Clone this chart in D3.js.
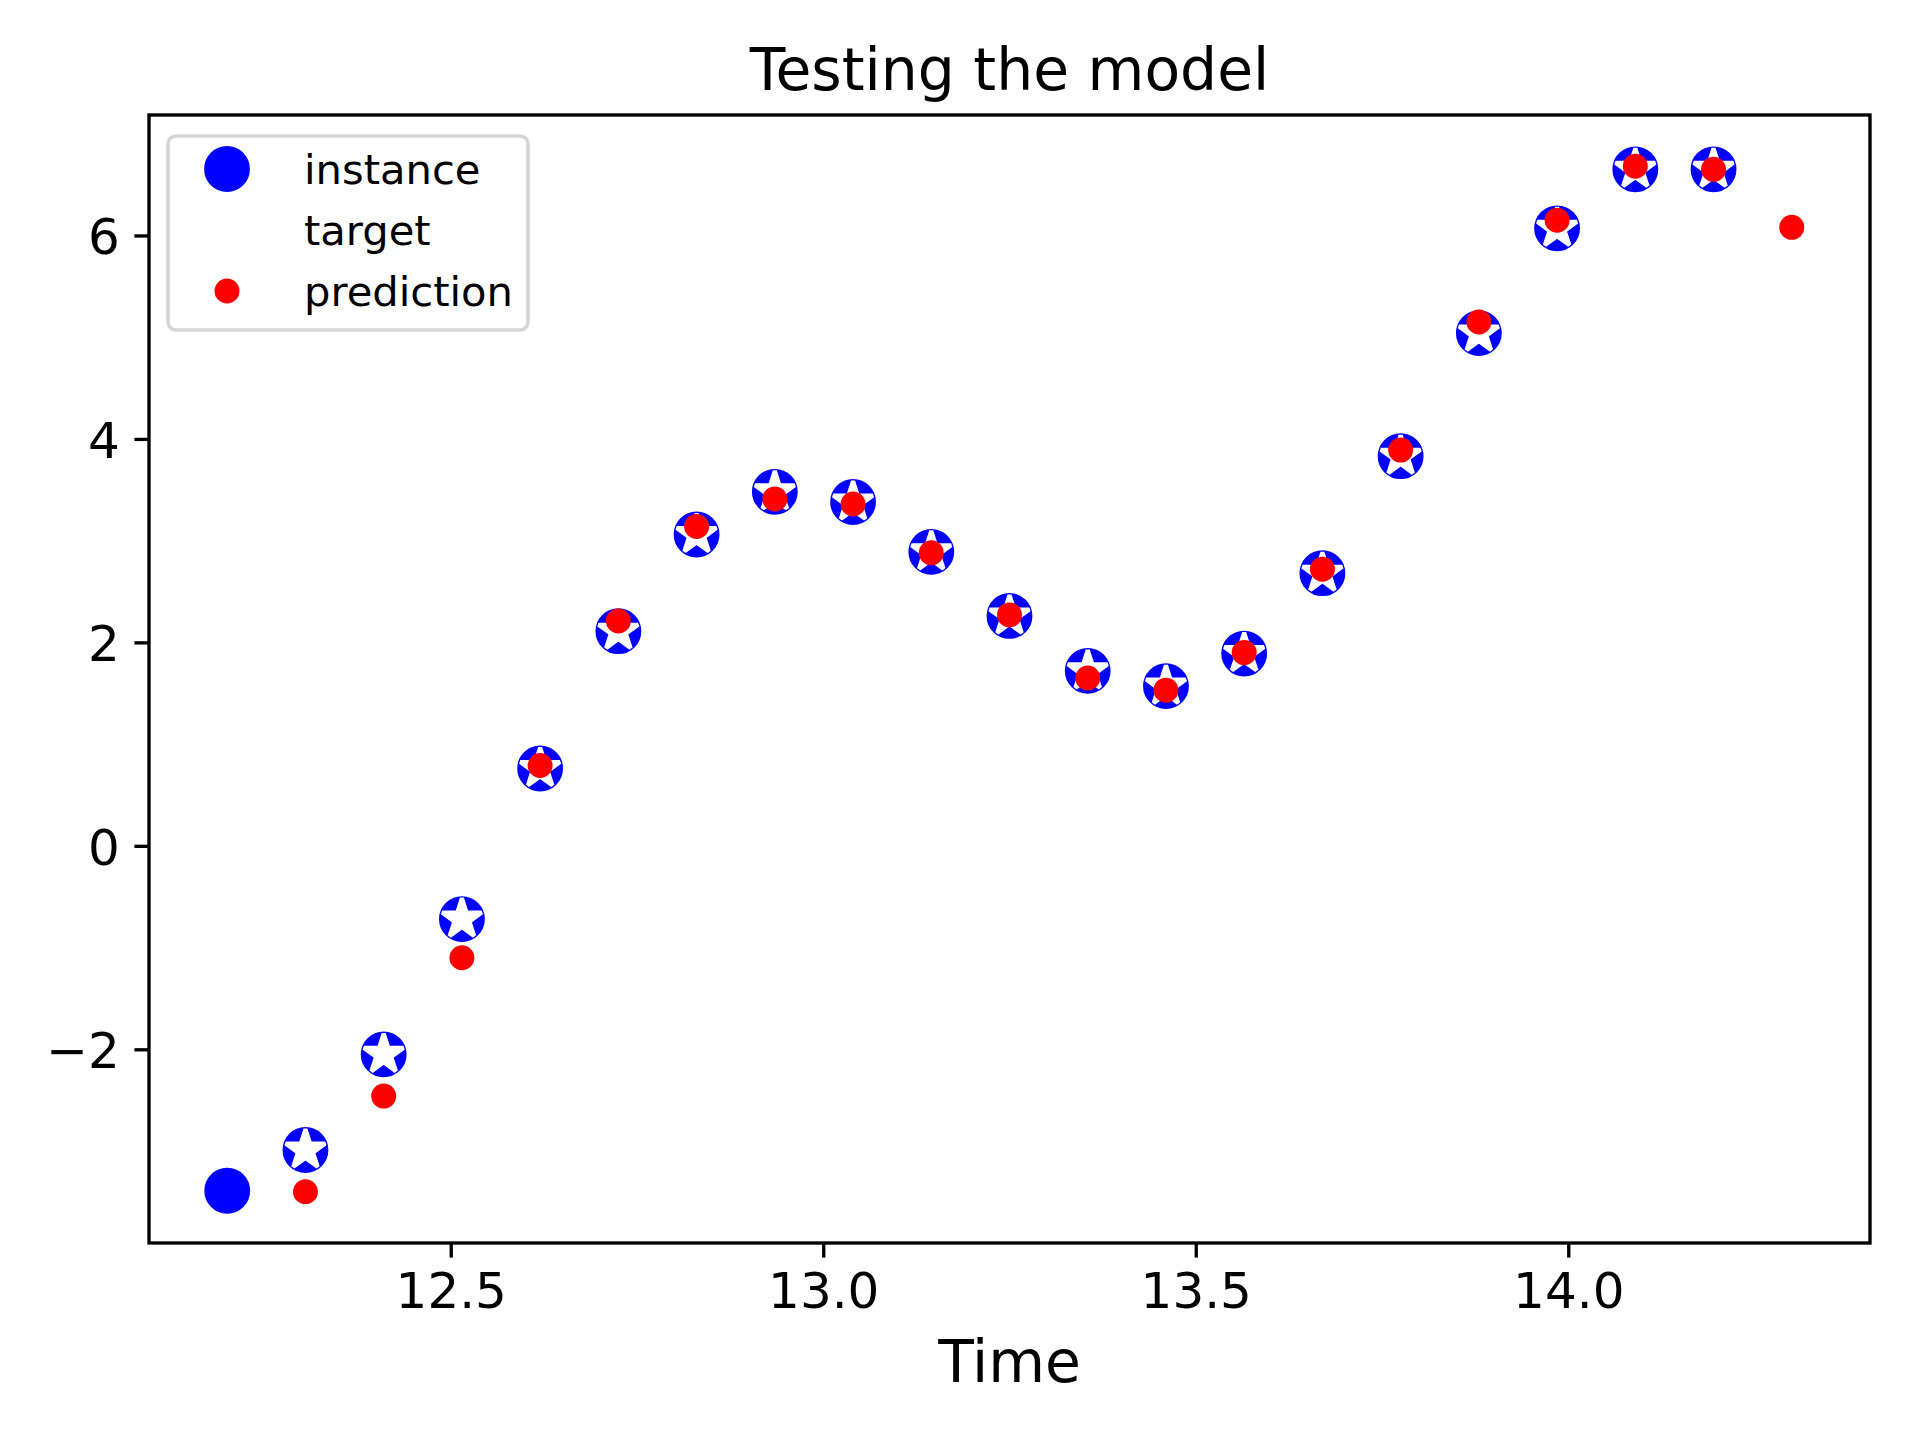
<!DOCTYPE html>
<html>
<head>
<meta charset="utf-8">
<script src="https://d3js.org/d3.v7.min.js"></script>
<style>
  body { margin: 0; background: #fff; }
  svg { display: block; }
  text { font-family: 'DejaVu Sans', sans-serif; fill: #000; }
</style>
</head>
<body>
<svg width="1920" height="1440"></svg>
<script>
// instance: the input steps, target: the same series shifted by one step
const instanceTime = [12.2, 12.305, 12.41, 12.515, 12.62, 12.725, 12.83, 12.935, 13.04, 13.145,
                      13.25, 13.355, 13.46, 13.565, 13.67, 13.775, 13.88, 13.985, 14.09, 14.195];
const instanceValues = [-3.39, -2.99, -2.05, -0.72, 0.76, 2.11, 3.06, 3.48, 3.38, 2.89,
                        2.26, 1.72, 1.57, 1.89, 2.68, 3.83, 5.04, 6.07, 6.65, 6.65];
const targetTime = [12.305, 12.41, 12.515, 12.62, 12.725, 12.83, 12.935, 13.04, 13.145, 13.25,
                    13.355, 13.46, 13.565, 13.67, 13.775, 13.88, 13.985, 14.09, 14.195, 14.3];
const targetValues = [-2.99, -2.05, -0.72, 0.76, 2.11, 3.06, 3.48, 3.38, 2.89, 2.26,
                      1.72, 1.57, 1.89, 2.68, 3.83, 5.04, 6.07, 6.65, 6.65, 6.07];
const predictionValues = [-3.40, -2.46, -1.10, 0.79, 2.21, 3.14, 3.41, 3.36, 2.88, 2.27,
                          1.65, 1.53, 1.90, 2.72, 3.89, 5.15, 6.15, 6.68, 6.65, 6.08];

const xTicks = [12.5, 13.0, 13.5, 14.0];
const yTicks = [-2, 0, 2, 4, 6];
const legendLabels = ['instance', 'target', 'prediction'];

const pt = 300 / 72;   // figure was 300 dpi
const margin = {left: 149, right: 50, top: 115, bottom: 197};
const width = 1920 - margin.left - margin.right;
const height = 1440 - margin.top - margin.bottom;

const svg = d3.select('svg');

// 5% padding on both sides like matplotlib autoscale
function padded(values) {
    const [lo, hi] = d3.extent(values);
    const pad = (hi - lo) * 0.05;
    return [lo - pad, hi + pad];
}

const xScale = d3.scaleLinear()
    .domain(padded(instanceTime.concat(targetTime)))
    .range([0, width]);

const yScale = d3.scaleLinear()
    .domain(padded(instanceValues.concat(targetValues, predictionValues)))
    .range([height, 0]);

const chart = svg.append('g')
    .attr('transform', `translate(${margin.left}, ${margin.top})`);

function starPath(R) {
    const r = R * 0.381966;
    const pts = [];
    for (let i = 0; i < 10; i++) {
        const a = -Math.PI / 2 + i * Math.PI / 5;
        const rad = i % 2 === 0 ? R : r;
        pts.push([rad * Math.cos(a), rad * Math.sin(a)]);
    }
    return 'M' + pts.map(p => p.join(',')).join('L') + 'Z';
}

const bigR = 5 * pt;      // markersize 10
const smallR = 2.5 * pt;  // '.' marker is half size
const edge = 1 * pt;

// instance
chart.append('g')
    .selectAll('circle')
    .data(instanceTime.map((t, i) => [t, instanceValues[i]]))
    .join('circle')
    .attr('cx', d => xScale(d[0]))
    .attr('cy', d => yScale(d[1]))
    .attr('r', bigR)
    .attr('fill', 'blue')
    .attr('stroke', 'blue')
    .attr('stroke-width', edge);

// target
chart.append('g')
    .selectAll('path')
    .data(targetTime.map((t, i) => [t, targetValues[i]]))
    .join('path')
    .attr('transform', d => `translate(${xScale(d[0])}, ${yScale(d[1])})`)
    .attr('d', starPath(bigR))
    .attr('fill', 'white')
    .attr('stroke', 'white')
    .attr('stroke-width', edge)
    .attr('stroke-linejoin', 'bevel');

// prediction
chart.append('g')
    .selectAll('circle')
    .data(targetTime.map((t, i) => [t, predictionValues[i]]))
    .join('circle')
    .attr('cx', d => xScale(d[0]))
    .attr('cy', d => yScale(d[1]))
    .attr('r', smallR)
    .attr('fill', 'red')
    .attr('stroke', 'red')
    .attr('stroke-width', edge);

// axes
const tickLen = 3.5 * pt;

const xAxis = chart.append('g')
    .attr('transform', `translate(0, ${height})`)
    .call(d3.axisBottom(xScale)
        .tickValues(xTicks)
        .tickFormat(d3.format('.1f'))
        .tickSize(tickLen)
        .tickPadding(tickLen));

const yAxis = chart.append('g')
    .call(d3.axisLeft(yScale)
        .tickValues(yTicks)
        .tickFormat(d3.format('d'))
        .tickSize(tickLen)
        .tickPadding(tickLen));

[xAxis, yAxis].forEach(ax => {
    ax.select('.domain').remove();
    ax.attr('font-family', null).attr('font-size', null);
    ax.selectAll('line').attr('stroke', '#000').attr('stroke-width', 0.8 * pt);
    ax.selectAll('text').attr('font-size', 12 * pt).attr('fill', '#000');
});
yAxis.selectAll('text').attr('dy', '0.37em');

chart.append('rect')
    .attr('width', width)
    .attr('height', height)
    .attr('fill', 'none')
    .attr('stroke', '#000')
    .attr('stroke-width', 0.8 * pt);

// title and label
svg.append('text')
    .attr('x', margin.left + width / 2)
    .attr('y', 90)
    .attr('text-anchor', 'middle')
    .attr('font-size', 14 * pt)
    .text('Testing the model');

svg.append('text')
    .attr('x', margin.left + width / 2)
    .attr('y', 1382)
    .attr('text-anchor', 'middle')
    .attr('font-size', 14 * pt)
    .text('Time');

// legend
const fs = 10 * pt;
const legend = chart.append('g')
    .attr('transform', `translate(${19}, ${21})`);

legend.append('rect')
    .attr('width', 360)
    .attr('height', 194)
    .attr('rx', 8)
    .attr('fill', 'white')
    .attr('fill-opacity', 0.8)
    .attr('stroke', '#d5d5d5')
    .attr('stroke-width', 3.5);

const rows = legend.selectAll('g.item')
    .data(legendLabels)
    .join('g')
    .attr('class', 'item')
    .attr('transform', (d, i) => `translate(59, ${33 + i * 61})`);

rows.each(function(d, i) {
    const g = d3.select(this);
    if (i === 0) {
        g.append('circle').attr('r', bigR).attr('fill', 'blue')
            .attr('stroke', 'blue').attr('stroke-width', edge);
    } else if (i === 1) {
        g.append('path').attr('d', starPath(bigR)).attr('fill', 'white')
            .attr('stroke', 'white').attr('stroke-width', edge);
    } else {
        g.append('circle').attr('r', smallR).attr('fill', 'red')
            .attr('stroke', 'red').attr('stroke-width', edge);
    }
    g.append('text')
        .attr('x', 77)
        .attr('dy', '0.36em')
        .attr('font-size', fs)
        .text(d);
});
</script>
</body>
</html>
